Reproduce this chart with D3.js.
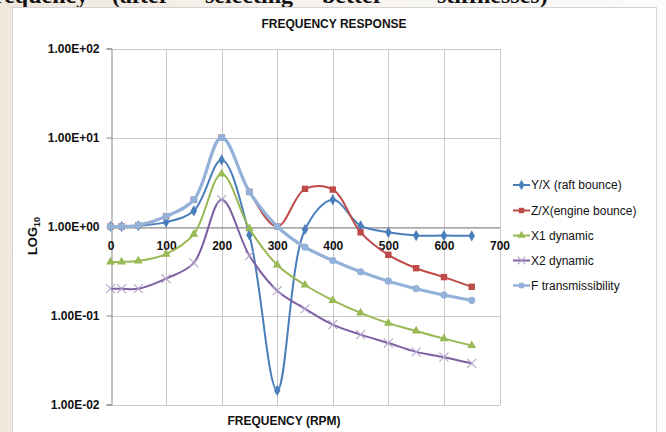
<!DOCTYPE html>
<html>
<head>
<meta charset="utf-8">
<script src="https://cdn.jsdelivr.net/npm/d3@7"></script>
<style>
  html, body { margin: 0; padding: 0; width: 666px; height: 432px; overflow: hidden; background: #fff; }
  svg { display: block; }
  .sans { font-family: "Liberation Sans Narrow", "Arial Narrow", "Liberation Sans", Arial, sans-serif; }
</style>
</head>
<body>
<svg id="chart" width="666" height="432"></svg>
<script>
// Frequency (RPM) at which each response was evaluated
const freq = [0, 20, 50, 100, 150, 200, 250, 300, 350, 400, 450, 500, 550, 600, 650];

// Response ratios per series
const raftBounce        = [1.0, 1.0, 1.02, 1.12, 1.5, 5.6, 0.8, 0.0144, 0.925, 2.0, 1.02, 0.86, 0.79, 0.79, 0.785];
const engineBounce      = [1.0, 1.0, 1.03, 1.3, 2.0, 10, 2.45, 1.0, 2.65, 2.6, 0.86, 0.48, 0.34, 0.27, 0.21];
const x1Dynamic         = [0.4, 0.4, 0.41, 0.49, 0.82, 3.9, 0.95, 0.37, 0.22, 0.148, 0.107, 0.082, 0.067, 0.055, 0.046];
const x2Dynamic         = [0.2, 0.2, 0.2, 0.26, 0.39, 2.0, 0.47, 0.19, 0.119, 0.079, 0.061, 0.049, 0.039, 0.034, 0.029];
const fTransmissibility = [1.0, 1.0, 1.03, 1.3, 2.0, 10, 2.45, 1.0, 0.585, 0.415, 0.31, 0.243, 0.2, 0.17, 0.148];

// Series names (legend order)
const seriesNames = ["Y/X (raft bounce)", "Z/X(engine bounce)", "X1 dynamic", "X2 dynamic", "F transmissibility"];

// Axis ticks
const xTicks = [0, 100, 200, 300, 400, 500, 600, 700];
const yTicks = [0.01, 0.1, 1, 10, 100];
const yTickLabels = ["1.00E-02", "1.00E-01", "1.00E+00", "1.00E+01", "1.00E+02"];

// Heading words of the surrounding text line
const headingWords = ["frequency", "(after", "selecting", "better", "stiffnesses)"];

const svg = d3.select("#chart");

// page backdrop
const defs = svg.append("defs");
const bg = defs.append("linearGradient").attr("id", "bgGrad").attr("x1", 0).attr("x2", 1).attr("y1", 0).attr("y2", 0);
bg.append("stop").attr("offset", "0%").attr("stop-color", "#efe7dc");
bg.append("stop").attr("offset", "40%").attr("stop-color", "#f6f2ec");
bg.append("stop").attr("offset", "100%").attr("stop-color", "#fbfbfb");
svg.append("rect").attr("width", 666).attr("height", 432).attr("fill", "url(#bgGrad)");

// cut-off heading line above the chart
const headingX = [-14, 112, 205, 322, 437];
svg.append("g").selectAll("text").data(headingWords).join("text")
  .attr("x", (d, i) => headingX[i]).attr("y", 3)
  .attr("font-family", "'Liberation Serif', 'Times New Roman', serif")
  .attr("font-weight", "bold").attr("font-size", 24).attr("fill", "#111")
  .text(d => d);

// chart box
svg.append("rect").attr("x", 12.5).attr("y", 7.5).attr("width", 644).attr("height", 430)
  .attr("fill", "#fff").attr("stroke", "#d4d4d4").attr("stroke-width", 1);

const x = d3.scaleLinear().domain([0, 700]).range([110.5, 499.5]);
const y = d3.scaleLog().domain([0.01, 100]).range([404.5, 48.5]);

// gridlines
const grid = svg.append("g").attr("stroke", "#c8c8c8").attr("stroke-width", 1).attr("shape-rendering", "crispEdges");
grid.selectAll(".h").data(yTicks).join("line")
  .attr("x1", x(0)).attr("x2", x(700)).attr("y1", d => Math.round(y(d)) + 0.5).attr("y2", d => Math.round(y(d)) + 0.5);
grid.selectAll(".v").data(xTicks.slice(1)).join("line")
  .attr("y1", y(100)).attr("y2", y(0.01)).attr("x1", d => Math.round(x(d)) + 0.5).attr("x2", d => Math.round(x(d)) + 0.5);

// y axis
const yAxis = svg.append("g").attr("class", "sans")
  .attr("transform", `translate(${Math.round(x(0)) + 0.5},0)`)
  .call(d3.axisLeft(y).tickValues(yTicks).tickFormat((d, i) => yTickLabels[i]).tickSize(5).tickPadding(7));
yAxis.select(".domain").attr("stroke", "#868686");
yAxis.selectAll(".tick line").attr("stroke", "#868686");
yAxis.selectAll("text").attr("font-size", 12).attr("font-weight", "bold").attr("fill", "#111")
  .attr("font-family", "'Liberation Sans Narrow', 'Arial Narrow', 'Liberation Sans', sans-serif");

// x axis crossing at 1
const xAxis = svg.append("g")
  .attr("transform", `translate(0,${Math.round(y(1)) + 0.5})`)
  .call(d3.axisBottom(x).tickValues(xTicks).tickSize(0).tickPadding(14));
xAxis.select(".domain").attr("stroke", "#868686");
xAxis.selectAll("text").attr("font-size", 12).attr("font-weight", "bold").attr("fill", "#111")
  .attr("font-family", "'Liberation Sans Narrow', 'Arial Narrow', 'Liberation Sans', sans-serif");

// titles
svg.append("text").attr("class", "sans").attr("x", 334).attr("y", 28)
  .attr("text-anchor", "middle").attr("font-size", 12).attr("font-weight", "bold").attr("fill", "#111")
  .text("FREQUENCY RESPONSE");
svg.append("text").attr("class", "sans").attr("x", 284).attr("y", 425)
  .attr("text-anchor", "middle").attr("font-size", 12).attr("font-weight", "bold").attr("fill", "#111")
  .text("FREQUENCY (RPM)");
const yt = svg.append("text").attr("class", "sans")
  .attr("transform", "translate(37,236) rotate(-90)")
  .attr("text-anchor", "middle").attr("font-size", 13).attr("font-weight", "bold").attr("fill", "#111");
yt.append("tspan").text("LOG");
yt.append("tspan").attr("font-size", 9).attr("dy", 3).text("10");

// series styling
const series = [
  { name: seriesNames[0], values: raftBounce,        color: "#4a7ebb", width: 2,   marker: "diamond" },
  { name: seriesNames[1], values: engineBounce,      color: "#be4b48", width: 2,   marker: "square" },
  { name: seriesNames[2], values: x1Dynamic,         color: "#98b954", width: 2,   marker: "triangle" },
  { name: seriesNames[3], values: x2Dynamic,         color: "#7d60a0", width: 2,   marker: "cross" },
  { name: seriesNames[4], values: fTransmissibility, color: "#93b1d9", width: 3.2, marker: "circle" }
];

const line = d3.line().x(d => x(d[0])).y(d => y(d[1])).curve(d3.curveCatmullRom.alpha(0.5));

function drawMarker(g, type, color, cx, cy, scale) {
  const s = scale || 1;
  if (type === "diamond") {
    g.append("path").attr("d", d3.symbol(d3.symbolDiamond, 36 * s)()).attr("transform", `translate(${cx},${cy})`)
      .attr("fill", color);
  } else if (type === "square") {
    g.append("rect").attr("x", cx - 3.2 * s).attr("y", cy - 3.2 * s).attr("width", 6.4 * s).attr("height", 6.4 * s)
      .attr("fill", color);
  } else if (type === "triangle") {
    g.append("path").attr("d", d3.symbol(d3.symbolTriangle, 34 * s)()).attr("transform", `translate(${cx},${cy})`)
      .attr("fill", color);
  } else if (type === "cross") {
    const r = 4.5 * s;
    g.append("path").attr("d", `M${cx - r},${cy - r}L${cx + r},${cy + r}M${cx - r},${cy + r}L${cx + r},${cy - r}`)
      .attr("stroke", "#b3a3cc").attr("stroke-width", 1.1).attr("fill", "none");
  } else if (type === "circle") {
    g.append("circle").attr("cx", cx).attr("cy", cy).attr("r", 3.6 * s).attr("fill", color);
  }
}

const plot = svg.append("g");
series.forEach(s => {
  const pts = freq.map((f, i) => [f, s.values[i]]);
  const g = plot.append("g");
  g.append("path").attr("d", line(pts)).attr("fill", "none")
    .attr("stroke", s.color).attr("stroke-width", s.width).attr("stroke-linejoin", "round");
  pts.forEach(p => drawMarker(g, s.marker, s.color, x(p[0]), y(p[1])));
});

// legend
const legendY = [185, 210.5, 235.5, 260.5, 285.5];
const legend = svg.append("g");
series.forEach((s, i) => {
  const g = legend.append("g");
  g.append("line").attr("x1", 513).attr("x2", 530).attr("y1", legendY[i]).attr("y2", legendY[i])
    .attr("stroke", s.color).attr("stroke-width", s.width === 2 ? 2 : 2.5);
  drawMarker(g, s.marker, s.color, 521.5, legendY[i], 0.85);
  g.append("text").attr("class", "sans").attr("x", 531).attr("y", legendY[i] + 4.3)
    .attr("font-size", 12).attr("fill", "#111").text(s.name);
});
</script>
</body>
</html>
